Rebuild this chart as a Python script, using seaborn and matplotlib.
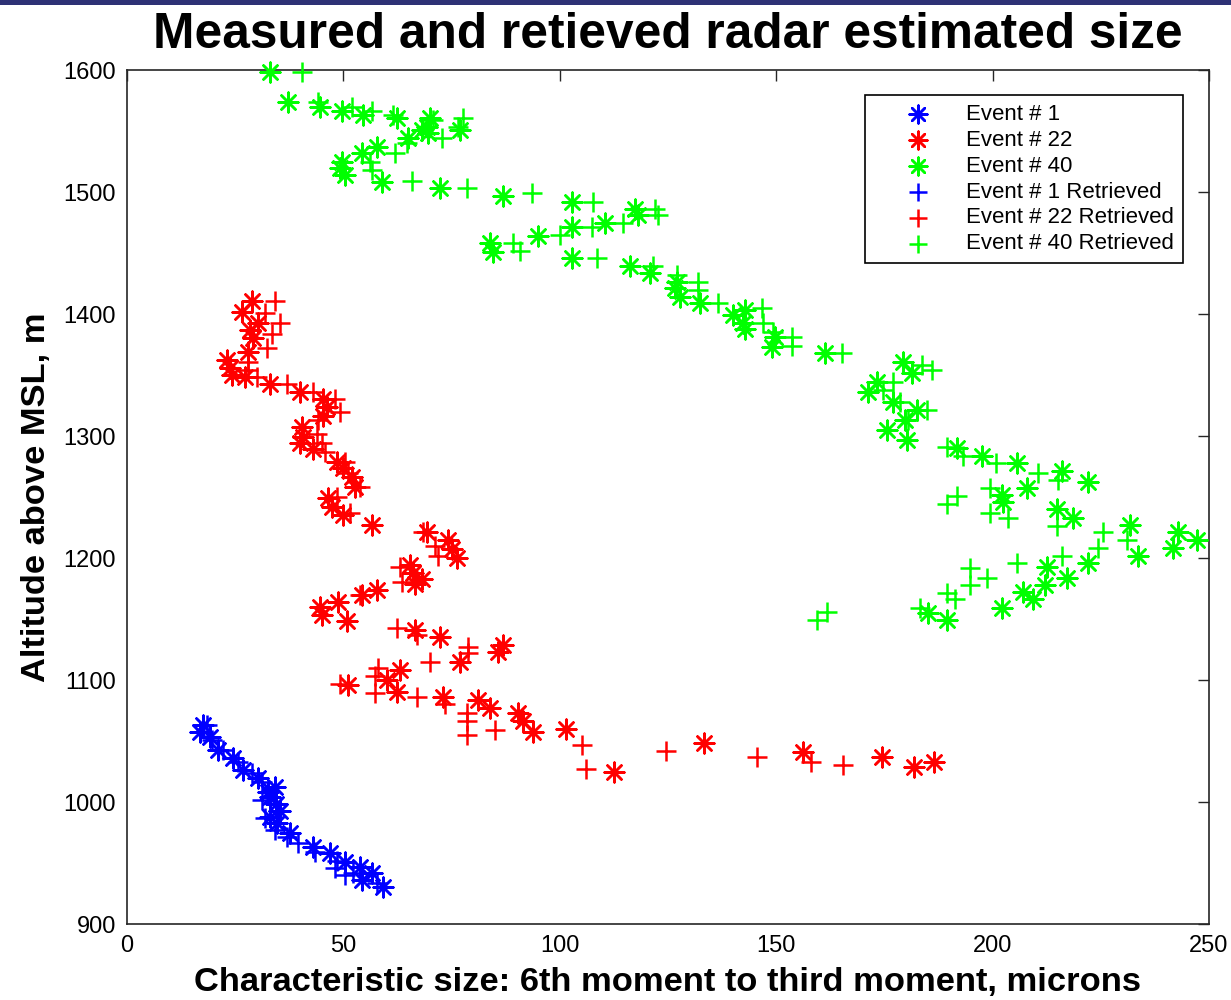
import matplotlib
matplotlib.use("Agg")
import matplotlib.pyplot as plt
from matplotlib.patches import Rectangle
import seaborn as sns
import pandas as pd

# ---------------- data ----------------
ev1_x = [17.6, 16.9, 19.2, 21.0, 24.5, 26.8, 30.3, 34.2, 32.5, 33.0, 34.5, 35.4, 33.0, 34.7,
         37.7, 43.0, 46.9, 50.4, 53.8, 56.6, 54.3, 59.1]
ev1_y = [1063, 1057, 1053, 1043, 1036, 1026, 1020, 1012, 1008, 1004, 998, 993, 988, 983,
         975, 963, 958, 951, 947, 942, 936, 930]

ev1r_x = [18.5, 19.6, 22.2, 25.6, 28.9, 31.2, 31.2, 31.9, 34.2, 37.0, 39.5, 43.4, 48.5, 48.1,
          50.4, 52.2, 57.8]
ev1r_y = [1063, 1051, 1043, 1033, 1024, 1016, 1002, 987, 977, 971, 966, 959, 952, 946,
          940, 942, 934]

ev22_x = [28.9, 26.6, 30.3, 28.4, 29.1, 28.0, 23.1, 23.8, 24.3, 27.3, 33.0, 40.0, 45.3, 46.2,
          45.3, 40.4, 40.7, 40.0, 43.0, 48.5, 49.9, 52.0, 52.7, 46.4, 47.4, 49.9, 56.6, 69.3,
          74.2, 75.1, 76.2, 65.4, 66.1, 68.2, 66.5, 57.8, 54.3, 48.8, 44.6, 45.1, 50.8, 66.5,
          72.3, 86.9, 85.7, 76.9, 63.1, 60.1, 51.1, 62.4, 73.0, 81.1, 83.9, 90.3, 91.5, 93.8,
          101.5, 112.6, 133.4, 156.1, 174.5, 181.9, 186.5]
ev22_y = [1411, 1402, 1393, 1387, 1380, 1369, 1362, 1356, 1350, 1348, 1343, 1336, 1330, 1324,
          1316, 1307, 1299, 1294, 1289, 1279, 1274, 1266, 1258, 1249, 1242, 1235, 1227, 1221,
          1215, 1207, 1200, 1194, 1188, 1183, 1179, 1174, 1170, 1164, 1160, 1153, 1148, 1141,
          1135, 1129, 1123, 1115, 1108, 1100, 1096, 1090, 1086, 1084, 1077, 1073, 1066, 1057,
          1060, 1025, 1048, 1041, 1037, 1029, 1033]

ev22r_x = [34.2, 31.9, 35.4, 33.5, 32.3, 28.0, 28.0, 30.0, 37.0, 43.0, 48.1, 49.2, 44.1, 43.9,
           45.1, 45.7, 50.4, 51.1, 53.8, 48.5, 51.5, 68.4, 71.2, 71.9, 63.1, 63.5, 53.8, 62.4,
           67.0, 78.8, 78.8, 70.0, 58.0, 57.3, 49.2, 57.3, 67.0, 73.5, 78.6, 78.6, 78.6, 85.0,
           105.2, 106.0, 124.5, 145.5, 158.0, 165.5]
ev22r_y = [1411, 1401, 1393, 1384, 1372, 1361, 1354, 1348, 1343, 1336, 1330, 1320, 1313, 1302,
           1294, 1287, 1279, 1270, 1258, 1250, 1237, 1221, 1210, 1202, 1193, 1180, 1170, 1143,
           1137, 1127, 1122, 1115, 1110, 1103, 1097, 1089, 1086, 1080, 1073, 1066, 1055, 1059,
           1047, 1027, 1042, 1037, 1033, 1030]

ev40_x = [33.0, 37.2, 44.6, 49.7, 54.5, 62.4, 70.0, 69.3, 68.2, 69.5, 64.9, 57.8, 54.3, 49.7,
          49.2, 50.4, 58.9, 72.3, 76.9, 86.9, 102.8, 117.4, 118.1, 110.4, 102.8, 95.0, 83.9,
          84.6, 102.8, 116.2, 120.8, 127.1, 126.6, 127.8, 132.4, 140.0, 142.8, 142.3, 142.8,
          149.7, 149.0, 161.3, 179.3, 181.4, 173.3, 171.2, 177.0, 182.5, 179.8, 175.6, 180.2,
          191.8, 197.6, 205.6, 216.0, 222.0, 208.0, 202.2, 202.4, 214.9, 218.6, 231.7, 242.8,
          247.2, 241.7, 233.6, 222.0, 212.6, 217.2, 212.1, 207.0, 209.3, 202.2, 189.5, 185.1]
ev40_y = [1598, 1574, 1570, 1566, 1563, 1561, 1561, 1553, 1551, 1548, 1544, 1537, 1532, 1525,
          1520, 1514, 1508, 1503, 1551, 1497, 1492, 1486, 1481, 1475, 1471, 1464, 1458,
          1451, 1446, 1439, 1434, 1426, 1421, 1414, 1409, 1399, 1403, 1393, 1388,
          1381, 1373, 1368, 1361, 1352, 1344, 1336, 1328, 1321, 1313, 1305, 1297,
          1290, 1284, 1278, 1271, 1262, 1257, 1252, 1246, 1240, 1233, 1227, 1221,
          1215, 1208, 1202, 1196, 1193, 1184, 1178, 1172, 1166, 1159, 1149, 1155]

ev40r_x = [40.4, 44.1, 52.0, 56.6, 61.5, 77.6, 76.5, 70.7, 72.8, 64.7, 61.9, 56.1, 56.6, 65.8,
           78.6, 93.6, 107.7, 122.0, 122.7, 114.6, 107.4, 100.0, 89.2, 90.8, 108.6, 121.5,
           127.1, 131.9, 131.9, 136.6, 146.7, 147.0, 149.3, 153.7, 153.7, 165.2, 183.7, 186.0,
           177.0, 174.7, 178.6, 184.8, 180.5, 189.5, 193.2, 200.8, 210.5, 215.1, 199.4, 191.8,
           189.5, 199.4, 203.6, 214.9, 225.5, 231.0, 224.4, 216.0, 205.6, 194.8, 198.7, 194.8,
           189.5, 191.3, 183.2, 161.7, 159.4]
ev40r_y = [1598, 1574, 1570, 1566, 1563, 1561, 1553, 1559, 1544, 1540, 1532, 1525, 1518, 1509,
           1503, 1499, 1492, 1486, 1481, 1475, 1471, 1465, 1458, 1452, 1446, 1439,
           1432, 1426, 1420, 1409, 1405, 1393, 1385, 1381, 1374, 1368, 1358, 1354,
           1344, 1338, 1328, 1321, 1313, 1291, 1284, 1278, 1270, 1264, 1257, 1251,
           1244, 1237, 1233, 1226, 1221, 1215, 1208, 1202, 1196, 1192, 1184, 1178,
           1171, 1166, 1159, 1156, 1149]

x_ticks = [0, 50, 100, 150, 200, 250]
y_ticks = [900, 1000, 1100, 1200, 1300, 1400, 1500, 1600]

title_text = "Measured and retieved radar estimated size"
xlabel_text = "Characteristic size: 6th moment to third moment, microns"
ylabel_text = "Altitude above MSL, m"

# ---------------- style ----------------
sns.set_style("white")
plt.rcParams['font.family'] = ['Liberation Sans', 'DejaVu Sans']
plt.rcParams['text.color'] = 'black'
plt.rcParams['axes.labelcolor'] = 'black'

fig = plt.figure(figsize=(12.31, 10.0), dpi=100)
ax = fig.add_axes([127 / 1231, 1 - 924 / 1000, (1209 - 127) / 1231, (924 - 70) / 1000])

star = (8, 2, 0)
series = [
    (ev1_x, ev1_y, "blue", star, "Event # 1"),
    (ev22_x, ev22_y, "red", star, "Event # 22"),
    (ev40_x, ev40_y, "#00ff00", star, "Event # 40"),
    (ev1r_x, ev1r_y, "blue", "+", "Event # 1 Retrieved"),
    (ev22r_x, ev22r_y, "red", "+", "Event # 22 Retrieved"),
    (ev40r_x, ev40r_y, "#00ff00", "+", "Event # 40 Retrieved"),
]
for xs, ys, col, mk, lab in series:
    df = pd.DataFrame({"x": xs, "y": ys})
    sns.scatterplot(data=df, x="x", y="y", ax=ax, color=col, marker=mk, s=200,
                    linewidth=1.8, label=lab, clip_on=False, zorder=3)

ax.set_xlim(0, 250)
ax.set_ylim(900, 1600)
ax.set_xticks(x_ticks)
ax.set_yticks(y_ticks)
ax.tick_params(direction="in", length=8, width=1.0, labelsize=17, colors="#262626",
               labelcolor="black", top=True, right=True, pad=8)
for sp in ax.spines.values():
    sp.set_visible(True)
    sp.set_color("#262626")
    sp.set_linewidth(1.2)

ax.set_xlabel(xlabel_text, fontsize=24.8, fontweight="bold", labelpad=7, color="black")
ax.set_ylabel(ylabel_text, fontsize=24.8, fontweight="bold", labelpad=8, color="black")
ax.set_title(title_text, fontsize=35.7, fontweight="bold", pad=16, color="black")

leg = ax.legend(loc="upper right", bbox_to_anchor=(1 - 26 / 1082, 1 - 25 / 854), fontsize=16,
                frameon=True, fancybox=False, edgecolor="black", framealpha=1,
                borderpad=0.4, labelspacing=0.22, handlelength=4.0, handletextpad=0.15,
                borderaxespad=0, markerscale=0.9)
leg.get_frame().set_linewidth(1.2)

fig.patches.append(Rectangle((0, 0.995), 1, 0.005, transform=fig.transFigure,
                             facecolor="#2e3175", edgecolor="none"))

fig.savefig("out.png", dpi=100)
